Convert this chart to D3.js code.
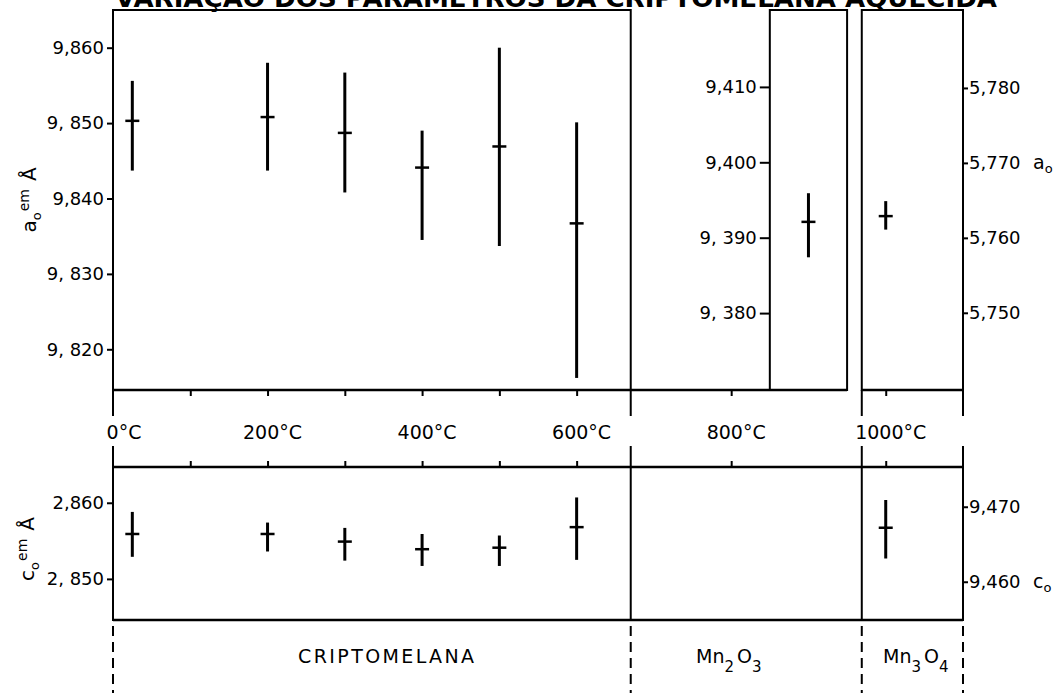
<!DOCTYPE html>
<html>
<head>
<meta charset="utf-8">
<script src="https://cdn.jsdelivr.net/npm/d3@7"></script>
<style>
  body { margin: 0; background: #fff; }
  text { font-family: "DejaVu Sans", sans-serif; fill: #000; }
</style>
</head>
<body>
<svg id="chart"></svg>
<script>
// chart data
const temps = [25, 200, 300, 400, 500, 600];
const aMean = [9.8503, 9.8508, 9.8487, 9.8441, 9.8469, 9.8367];
const aLow  = [9.8437, 9.8437, 9.8408, 9.8345, 9.8337, 9.8162];
const aHigh = [9.8556, 9.8580, 9.8567, 9.8490, 9.8600, 9.8501];

const cMean = [2.8559, 2.8559, 2.8549, 2.8539, 2.8541, 2.8568];
const cLow  = [2.8529, 2.8536, 2.8524, 2.8517, 2.8517, 2.8525];
const cHigh = [2.8588, 2.8574, 2.8567, 2.8559, 2.8557, 2.8607];

// Mn2O3 (a0) and Mn3O4 (a0, c0)
const mn2o3Temp = [900];
const mn2o3A = [{mean: 9.3921, low: 9.3874, high: 9.3959}];
const mn3o4Temp = [1000];
const mn3o4A = [{mean: 5.7629, low: 5.7611, high: 5.7649}];
const mn3o4C = [{mean: 9.4672, low: 9.4631, high: 9.4709}];

// tick labels
const xTickTemps = [100, 200, 300, 400, 500, 600, 800, 1000];
const xLabelTemps = [0, 200, 400, 600, 800, 1000];
const xLabels = ["0°C", "200°C", "400°C", "600°C", "800°C", "1000°C"];
const aTicks = [9.86, 9.85, 9.84, 9.83, 9.82];
const aTickLabels = ["9,860", "9, 850", "9,840", "9, 830", "9, 820"];
const mn2Ticks = [9.41, 9.40, 9.39, 9.38];
const mn2TickLabels = ["9,410", "9,400", "9, 390", "9, 380"];
const mn3aTicks = [5.78, 5.77, 5.76, 5.75];
const mn3aTickLabels = ["5,780", "5,770", "5,760", "5,750"];
const cTicks = [2.86, 2.85];
const cTickLabels = ["2,860", "2, 850"];
const mn3cTicks = [9.47, 9.46];
const mn3cTickLabels = ["9,470", "9,460"];

// panel limits in temperature units
const mainEnd = 670, mn2Start = 850, mn2End = 950, mn3Start = 969, xMax = 1100;

const width = 1058, height = 693;
const svg = d3.select("#chart").attr("width", width).attr("height", height);

// scales
const x = d3.scaleLinear().domain([0, xMax]).range([113, 963]);
const yA = d3.scaleLinear().domain([9.8146, 9.8650]).range([390, 10]);
const yMn2 = d3.scaleLinear().domain([9.3698, 9.4202]).range([390, 10]);
const yMn3a = d3.scaleLinear().domain([5.7397, 5.7904]).range([390, 10]);
const yC = d3.scaleLinear().domain([2.8446, 2.8647]).range([620, 467]);
const yMn3c = d3.scaleLinear().domain([9.4549, 9.4753]).range([620, 467]);

const top0 = yA.range()[1], top1 = yA.range()[0];
const bot0 = yC.range()[1], bot1 = yC.range()[0];

// title (cut off at the top edge, as in the scan)
svg.append("text")
  .attr("x", 115).attr("y", 7)
  .attr("textLength", 882).attr("lengthAdjust", "spacingAndGlyphs")
  .style("font-size", "24px").style("font-weight", "bold")
  .text("VARIAÇÃO DOS PARÂMETROS DA CRIPTOMELANA AQUECIDA");

// frames
const frame = (x0, x1, y0, y1) => svg.append("rect")
  .attr("x", x(x0)).attr("y", y0)
  .attr("width", x(x1) - x(x0)).attr("height", y1 - y0)
  .attr("fill", "none").attr("stroke", "#000").attr("stroke-width", 2);

frame(0, mainEnd, top0, top1);
frame(mn2Start, mn2End, top0, top1);
frame(mn3Start, xMax, top0, top1);
frame(0, xMax, bot0, bot1);

// heavier horizontal lines
svg.append("line").attr("x1", x(0)).attr("x2", x(mn2End)).attr("y1", top1).attr("y2", top1)
  .attr("stroke", "#000").attr("stroke-width", 2.5);
svg.append("line").attr("x1", x(mn3Start)).attr("x2", x(xMax)).attr("y1", top1).attr("y2", top1)
  .attr("stroke", "#000").attr("stroke-width", 2.5);
svg.append("line").attr("x1", x(0)).attr("x2", x(xMax)).attr("y1", bot0).attr("y2", bot0)
  .attr("stroke", "#000").attr("stroke-width", 2.5);
svg.append("line").attr("x1", x(0)).attr("x2", x(xMax)).attr("y1", bot1).attr("y2", bot1)
  .attr("stroke", "#000").attr("stroke-width", 2.5);

// dividers inside lower panel
[mainEnd, mn3Start].forEach(t => {
  svg.append("line").attr("x1", x(t)).attr("x2", x(t)).attr("y1", bot0).attr("y2", bot1)
    .attr("stroke", "#000").attr("stroke-width", 2);
});

// x ticks: down from upper panel, up from lower panel
const styleAxis = g => {
  g.select(".domain").remove();
  g.selectAll(".tick line").attr("stroke", "#000").attr("stroke-width", 2);
};
svg.append("g").attr("transform", `translate(0,${top1})`)
  .call(d3.axisBottom(x).tickValues(xTickTemps).tickSize(6).tickFormat(""))
  .call(styleAxis);
svg.append("g").attr("transform", `translate(0,${bot0})`)
  .call(d3.axisTop(x).tickValues(xTickTemps).tickSize(6).tickFormat(""))
  .call(styleAxis);

// x labels in the gap between panels
svg.selectAll(".xlabel")
  .data(xLabelTemps)
  .enter().append("text")
  .attr("class", "xlabel")
  .attr("x", (d, i) => x(d) + (i === 0 ? 11 : 5))
  .attr("y", 439)
  .attr("text-anchor", "middle")
  .style("font-size", "19px")
  .text((d, i) => xLabels[i]);

// vertical separators through the gap (broken around the labels)
[0, mainEnd, mn3Start, xMax].forEach(t => {
  svg.append("line").attr("x1", x(t)).attr("x2", x(t)).attr("y1", top1).attr("y2", 416)
    .attr("stroke", "#000").attr("stroke-width", 2);
  svg.append("line").attr("x1", x(t)).attr("x2", x(t)).attr("y1", 446).attr("y2", bot0)
    .attr("stroke", "#000").attr("stroke-width", 2);
});

// dashed lines below the lower panel
[0, mainEnd, mn3Start, xMax].forEach(t => {
  svg.append("line").attr("x1", x(t)).attr("x2", x(t)).attr("y1", 626).attr("y2", height)
    .attr("stroke", "#000").attr("stroke-width", 2).attr("stroke-dasharray", "10,6");
});

// y axes
const yAxisStyle = g => {
  g.select(".domain").remove();
  g.selectAll(".tick line").attr("stroke", "#000").attr("stroke-width", 2);
  g.selectAll(".tick text").style("font-size", "18px").attr("fill", "#000")
    .style("font-family", "DejaVu Sans, sans-serif");
};
svg.append("g").attr("transform", `translate(${x(0)},0)`)
  .call(d3.axisLeft(yA).tickValues(aTicks).tickSize(6).tickPadding(3)
    .tickFormat((d, i) => aTickLabels[i]))
  .call(yAxisStyle);
svg.append("g").attr("transform", `translate(${x(mn2Start)},0)`)
  .call(d3.axisLeft(yMn2).tickValues(mn2Ticks).tickSize(10).tickPadding(3)
    .tickFormat((d, i) => mn2TickLabels[i]))
  .call(yAxisStyle);
svg.append("g").attr("transform", `translate(${x(xMax)},0)`)
  .call(d3.axisRight(yMn3a).tickValues(mn3aTicks).tickSize(5).tickPadding(1)
    .tickFormat((d, i) => mn3aTickLabels[i]))
  .call(yAxisStyle);
svg.append("g").attr("transform", `translate(${x(0)},0)`)
  .call(d3.axisLeft(yC).tickValues(cTicks).tickSize(6).tickPadding(3)
    .tickFormat((d, i) => cTickLabels[i]))
  .call(yAxisStyle);
svg.append("g").attr("transform", `translate(${x(xMax)},0)`)
  .call(d3.axisRight(yMn3c).tickValues(mn3cTicks).tickSize(5).tickPadding(1)
    .tickFormat((d, i) => mn3cTickLabels[i]))
  .call(yAxisStyle);

// right-side symbols a0 and c0
const sym = (yPos, letter) => {
  const t = svg.append("text").attr("x", 1033).attr("y", yPos + 6).style("font-size", "19px");
  t.append("tspan").text(letter);
  t.append("tspan").attr("dy", 4).style("font-size", "13px").text("o");
};
sym(yMn3a(5.77), "a");
sym(yMn3c(9.46), "c");

// rotated y titles
const yTitle = (cx, cy, letter) => {
  const t = svg.append("text")
    .attr("transform", `translate(${cx},${cy}) rotate(-90)`)
    .attr("text-anchor", "middle")
    .style("font-size", "20px");
  t.append("tspan").text(letter);
  t.append("tspan").attr("dy", 5).style("font-size", "13px").text("o");
  t.append("tspan").attr("dy", -12).attr("dx", 1).style("font-size", "14px").text("em");
  t.append("tspan").attr("dy", 7).attr("dx", 8).text("Å");
};
yTitle(36, 200, "a");
yTitle(34, 549, "c");

// error bars
const drawBars = (rows, xs, yScale) => {
  const g = svg.append("g");
  const bar = g.selectAll("g").data(rows).enter().append("g");
  bar.append("line")
    .attr("x1", (d, i) => x(xs[i])).attr("x2", (d, i) => x(xs[i]))
    .attr("y1", d => yScale(d.low)).attr("y2", d => yScale(d.high))
    .attr("stroke", "#000").attr("stroke-width", 3);
  bar.append("line")
    .attr("x1", (d, i) => x(xs[i]) - 7).attr("x2", (d, i) => x(xs[i]) + 7)
    .attr("y1", d => yScale(d.mean)).attr("y2", d => yScale(d.mean))
    .attr("stroke", "#000").attr("stroke-width", 2.5);
};
drawBars(temps.map((t, i) => ({mean: aMean[i], low: aLow[i], high: aHigh[i]})), temps, yA);
drawBars(temps.map((t, i) => ({mean: cMean[i], low: cLow[i], high: cHigh[i]})), temps, yC);
drawBars(mn2o3A, mn2o3Temp, yMn2);
drawBars(mn3o4A, mn3o4Temp, yMn3a);
drawBars(mn3o4C, mn3o4Temp, yMn3c);

// phase names
svg.append("text").attr("x", x(0) + 185).attr("y", 663)
  .style("font-size", "19px").style("letter-spacing", "2.4px")
  .text("CRIPTOMELANA");
const phase = (xPos, a, b) => {
  const t = svg.append("text").attr("x", xPos).attr("y", 663).style("font-size", "19px");
  t.append("tspan").text("Mn");
  t.append("tspan").attr("dy", 9).style("font-size", "15px").text(a);
  t.append("tspan").attr("dy", -9).attr("dx", 3).text("O");
  t.append("tspan").attr("dy", 9).style("font-size", "15px").text(b);
};
phase(696, "2", "3");
phase(883, "3", "4");
</script>
</body>
</html>
